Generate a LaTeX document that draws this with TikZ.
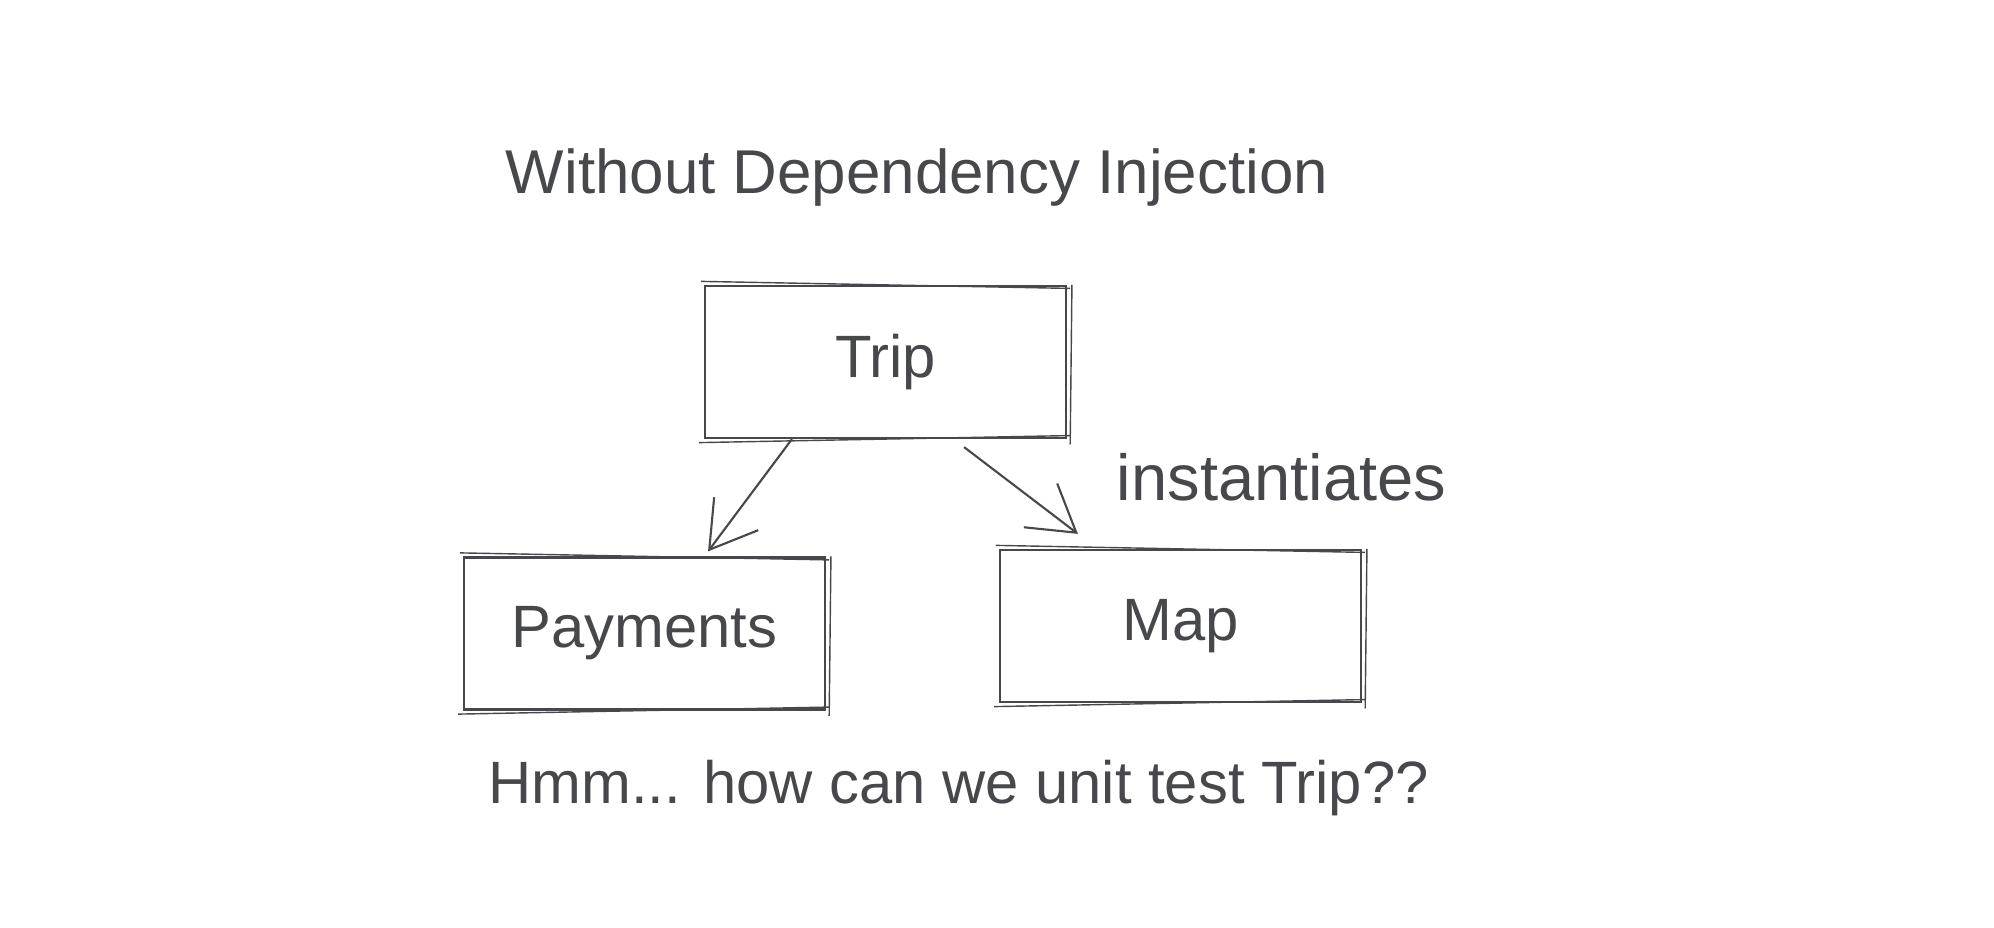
\documentclass[tikz,border=0pt]{standalone}
\usepackage{fontspec}
\setmainfont{Liberation Sans}
\usetikzlibrary{arrows.meta}
\definecolor{ink}{RGB}{70,72,76}

\begin{document}
\begin{tikzpicture}[x=0.01cm,y=-0.01cm,semithick,>={Straight Barb[length=4.5mm,width=5.5mm]}]
    \tikzstyle{label}=[text=ink,font=\fontsize{17}{20}\selectfont]
    \tikzstyle{object}=[style=label,draw=ink,rectangle,minimum width=3.6cm,minimum height=1.52cm]
    \useasboundingbox (0,0) rectangle (1994,928);

    \node[label,font=\fontsize{17.6}{20}\selectfont] (title) at (917,178) {Without Dependency Injection};
    \node[object] (trip)  at (885.5,362)  {Trip};
    \node[object] (pay)   at (644.5,633.5){Payments};
    \node[object] (map)   at (1180.5,626) {Map};
    \node[label,font=\fontsize{18.5}{20}\selectfont] (inst) at (1281.5,477) {instantiates};
    \node[label]  (hmm)   at (958.5,788)  {Hmm... how can we unit test Trip??};

    % second stroke of the sketchy boxes
    \foreach \b in {trip,pay,map}
      \draw[ink,thin] ([shift={(-1.5pt,-1pt)}]\b.south west) -- ([shift={(1pt,1pt)}]\b.south east)
                      ([shift={(1pt,-1.5pt)}]\b.south east) -- ([shift={(1.5pt,0pt)}]\b.north east)
                      ([shift={(-1pt,1pt)}]\b.north west) -- ([shift={(1pt,-1pt)}]\b.north east);

    \path[->]
     ([xshift=-0.935cm]trip.south) edge[ink] ([xshift=0.635cm,yshift=0.05cm]pay.north)
     ([xshift=0.785cm,yshift=-0.08cm]trip.south) edge[ink] ([xshift=-1.025cm,yshift=0.15cm]map.north);
\end{tikzpicture}
\end{document}
